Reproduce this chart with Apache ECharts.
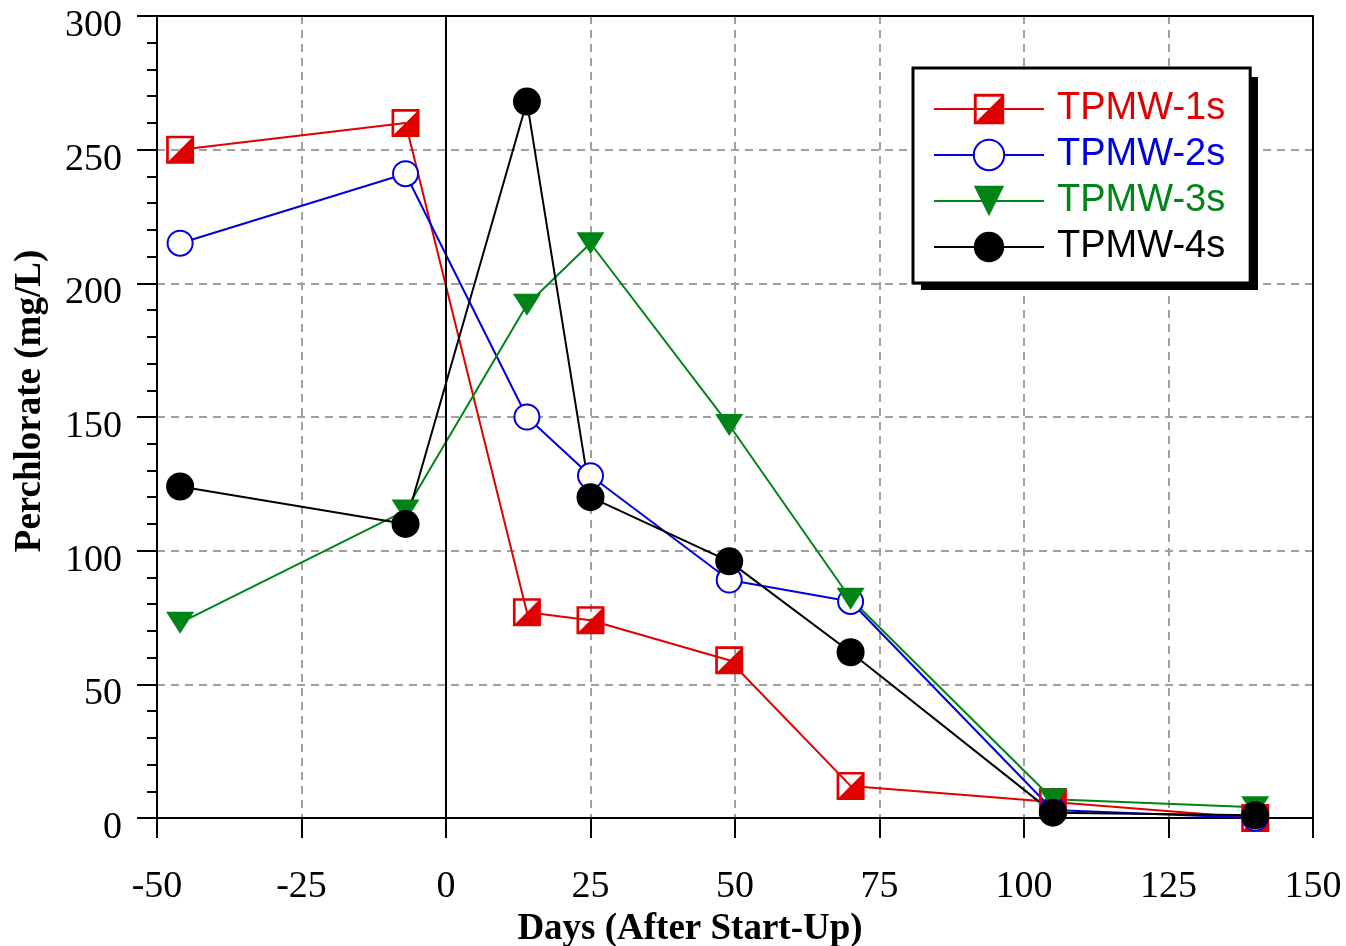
<!DOCTYPE html>
<html style="height: 100%">
<head>
	<meta charset="utf-8">
</head>
<body style="height: 100%; margin: 0; background: #fff">
<div id="container" style="width: 1346px; height: 946px"></div>
<script type="text/javascript" src="https://cdn.jsdelivr.net/npm/echarts@6/dist/echarts.min.js"></script>
<script type="text/javascript">
    var days = [-46, -7, 14, 25, 49, 70, 105, 140];
    var tpmw1s = [250, 260, 77, 74, 59, 12, 6, 0];
    var tpmw2s = [215, 241, 150, 128, 89, 81, 3, 0];
    var tpmw3s = [73, 115, 192, 215, 147, 82, 7, 4];
    var tpmw4s = [124, 110, 268, 120, 96, 62, 2, 1];
    var seriesNames = ['TPMW-1s', 'TPMW-2s', 'TPMW-3s', 'TPMW-4s'];
    var seriesColors = ['#e00000', '#0000dd', '#008418', '#000000'];

    // square outline with the lower-right half filled
    var halfSquare = 'path://M0,0L26,0L26,26L0,26Z M2.5,2.5L2.5,23.5L23.5,23.5L23.5,2.5Z M23.5,2.5L23.5,23.5L2.5,23.5Z';

    function pairs(vals) {
        var out = [];
        for (var i = 0; i < days.length; i++) {
            out.push([days[i], vals[i]]);
        }
        return out;
    }

    var dom = document.getElementById("container");
    var myChart = echarts.init(dom);

    var serif = '"Liberation Serif", "Times New Roman", serif';
    var gridLine = { show: true, lineStyle: { color: '#a0a0a0', width: 2, type: [8, 6] } };

    var option = {
        backgroundColor: '#ffffff',
        animation: false,
        grid: {
            left: 157,
            right: 33,
            top: 16,
            bottom: 128,
            containLabel: false,
            outerBoundsMode: 'none'
        },
        // drop shadow behind the legend box
        graphic: [{
            type: 'rect',
            left: 921,
            top: 77,
            z: 3,
            shape: { width: 337, height: 213 },
            style: { fill: '#000' }
        }],
        legend: {
            left: 913,
            top: 68,
            z: 4,
            orient: 'vertical',
            backgroundColor: '#fff',
            borderColor: '#000',
            borderWidth: 3,
            borderRadius: 0,
            padding: [22, 25, 17, 20],
            itemWidth: 110,
            itemHeight: 38,
            itemGap: 8,
            textStyle: {
                fontFamily: '"Liberation Sans", Arial, sans-serif',
                fontSize: 38,
                lineHeight: 38,
                padding: [0, 0, 0, 8]
            },
            data: seriesNames.map(function (n, i) {
                return { name: n, textStyle: { color: seriesColors[i] } };
            })
        },
        xAxis: [{
            type: 'value',
            min: -50,
            max: 150,
            interval: 25,
            name: 'Days (After Start-Up)',
            nameLocation: 'middle',
            nameGap: 85,
            nameTextStyle: {
                fontFamily: serif,
                fontSize: 37,
                fontWeight: 'bold',
                color: '#000',
                padding: [0, 90, 0, 0]
            },
            axisLine: { onZero: false, lineStyle: { color: '#000', width: 2 } },
            axisTick: { inside: false, length: 20, lineStyle: { color: '#000', width: 2 } },
            axisLabel: {
                margin: 50,
                fontFamily: serif,
                fontSize: 38,
                color: '#000'
            },
            splitLine: gridLine
        }, {
            type: 'value',
            position: 'top',
            min: -50,
            max: 150,
            interval: 25,
            axisLine: { show: true, onZero: false, lineStyle: { color: '#000', width: 2 } },
            axisTick: { show: false },
            axisLabel: { show: false },
            splitLine: { show: false }
        }],
        yAxis: [{
            type: 'value',
            min: 0,
            max: 300,
            interval: 50,
            name: 'Perchlorate (mg/L)',
            nameLocation: 'middle',
            nameGap: 108,
            nameTextStyle: {
                fontFamily: serif,
                fontSize: 37,
                fontWeight: 'bold',
                color: '#000',
                padding: [0, 0, 0, 32]
            },
            axisLine: { show: true, onZero: false, lineStyle: { color: '#000', width: 2 } },
            axisTick: { show: true, inside: false, length: 20, lineStyle: { color: '#000', width: 2 } },
            minorTick: { show: true, splitNumber: 5, length: 10, lineStyle: { color: '#000', width: 2 } },
            axisLabel: {
                margin: 35,
                verticalAlign: 'top',
                lineHeight: 20,
                fontFamily: serif,
                fontSize: 38,
                color: '#000'
            },
            splitLine: gridLine
        }, {
            type: 'value',
            position: 'right',
            min: 0,
            max: 300,
            interval: 50,
            axisLine: { show: true, onZero: false, lineStyle: { color: '#000', width: 2 } },
            axisTick: { show: false },
            axisLabel: { show: false },
            splitLine: { show: false }
        }],
        series: [
            {
                name: seriesNames[0],
                type: 'line',
                data: pairs(tpmw1s),
                symbol: halfSquare,
                symbolSize: 28,
                lineStyle: { color: seriesColors[0], width: 2 },
                itemStyle: { color: seriesColors[0], borderWidth: 0 },
                markLine: {
                    silent: true,
                    symbol: 'none',
                    label: { show: false },
                    lineStyle: { color: '#000', type: 'solid', width: 2 },
                    data: [{ xAxis: 0 }]
                }
            },
            {
                name: seriesNames[1],
                type: 'line',
                data: pairs(tpmw2s),
                symbol: 'emptyCircle',
                symbolSize: 25,
                lineStyle: { color: seriesColors[1], width: 2 },
                itemStyle: { color: seriesColors[1], borderWidth: 2 }
            },
            {
                name: seriesNames[2],
                type: 'line',
                data: pairs(tpmw3s),
                symbol: 'triangle',
                symbolRotate: 180,
                symbolSize: [28, 22],
                lineStyle: { color: seriesColors[2], width: 2 },
                itemStyle: { color: seriesColors[2] }
            },
            {
                name: seriesNames[3],
                type: 'line',
                data: pairs(tpmw4s),
                symbol: 'circle',
                symbolSize: 28,
                lineStyle: { color: seriesColors[3], width: 2 },
                itemStyle: { color: seriesColors[3] }
            }
        ]
    };

    myChart.setOption(option);
</script>
</body>
</html>
